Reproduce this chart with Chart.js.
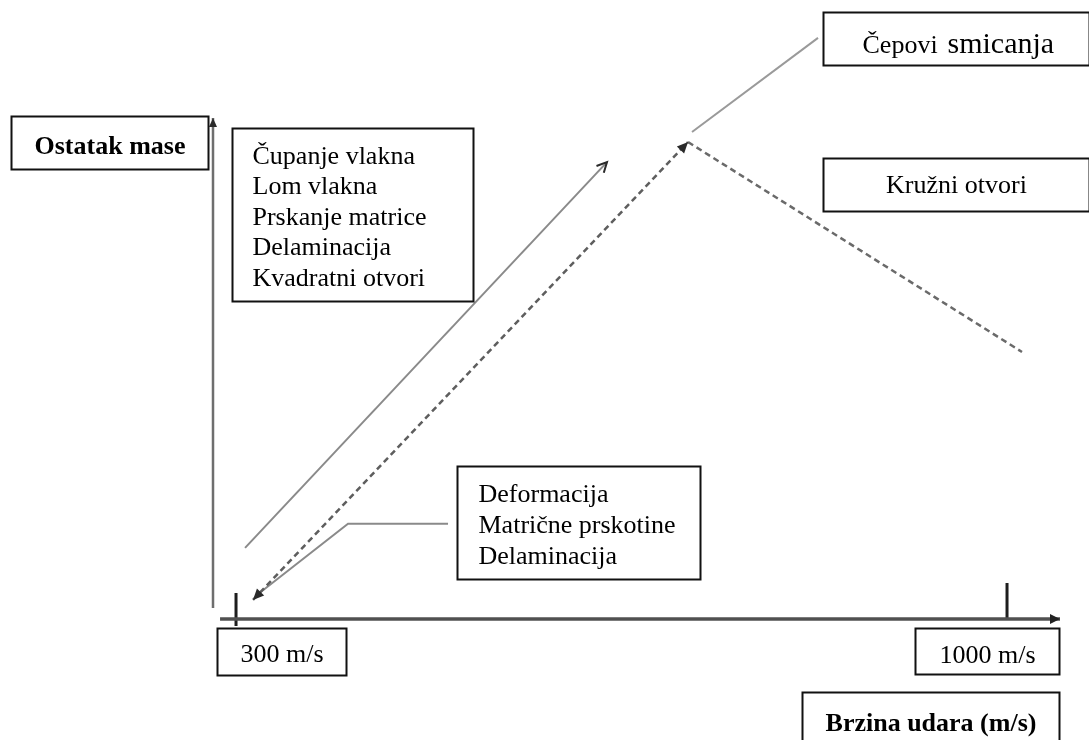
<!DOCTYPE html>
<html>
<head>
<meta charset="utf-8">
<script src="https://cdn.jsdelivr.net/npm/chart.js@4"></script>
<style>
  html, body { margin: 0; padding: 0; background: #fff; }
  canvas { display: block; }
</style>
</head>
<body>
<canvas id="chart" width="1089" height="740"></canvas>
<script>
// axis ranges: impact speed (m/s) and remaining mass (relative units)
const speedRange = [279.1, 1048.1];
const massRange = [0, 100];

// tick marks on the speed axis and their labels
const speedTicks = [300, 1000];
const tickTops = [5.2, 7.2];
const tickLabels = ['300 m/s', '1000 m/s'];

const yTitle = 'Ostatak mase';
const xTitle = 'Brzina udara (m/s)';

// damage mode texts
const fiberModes = ['Čupanje vlakna', 'Lom vlakna', 'Prskanje matrice', 'Delaminacija', 'Kvadratni otvori'];
const lowModes = ['Deformacija', 'Matrične prskotine', 'Delaminacija'];
const roundHoles = 'Kružni otvori';
const plugWords = ['Čepovi', 'smicanja'];

// lines (speed, mass)
const fiberLine = [{ x: 308.2, y: 14.2 }, { x: 636.8, y: 91.2 }];
const riseLine = [{ x: 315.4, y: 3.8 }, { x: 710.4, y: 95.2 }];
const fallLine = [{ x: 710.4, y: 95.2 }, { x: 1013.6, y: 53.3 }];
const plugLine = [{ x: 714.0, y: 97.2 }, { x: 828.4, y: 116.0 }];
const lowLeader = [{ x: 492.5, y: 19.0 }, { x: 401.7, y: 19.0 }, { x: 319.0, y: 4.8 }];
const xAxisLine = [{ x: 285.5, y: 0 }, { x: 1048.1, y: 0 }];
const yAxisLine = [{ x: 279.1, y: 2.2 }, { x: 279.1, y: 100 }];

const FONT = '"Liberation Serif", "Times New Roman", serif';

function lineSet(data, color, width, dash, arrow) {
    return {
        data: data,
        showLine: true,
        borderColor: color,
        borderWidth: width,
        borderDash: dash || [],
        pointRadius: 0,
        pointHoverRadius: 0,
        fill: false,
        clip: false,
        arrow: arrow || {}
    };
}

const datasets = [
    lineSet(yAxisLine, '#6e6e6e', 2.5, null, { end: 'filled', size: [9, 4] }),
    lineSet(xAxisLine, '#505050', 3.5, null, { end: 'filled', size: [10, 5] }),
    lineSet(fiberLine, '#8a8a8a', 2, null, { end: 'open', size: [10, 5] }),
    lineSet(riseLine, '#5e5e5e', 2.5, [6, 4], { start: 'filled', end: 'filled', size: [11, 5] }),
    lineSet(fallLine, '#6a6a6a', 2.5, [6, 4]),
    lineSet(plugLine, '#9a9a9a', 2),
    lineSet(lowLeader, '#8a8a8a', 2)
];
speedTicks.forEach((v, i) => {
    datasets.push(lineSet([{ x: v, y: tickTops[i] }, { x: v, y: i === 0 ? -1.4 : 0 }], '#1e1e1e', 3));
});

// text boxes, anchored at (speed, mass) of their top-left corner
const boxes = [
    { at: [95.7, 100.4], w: 197, h: 53, lines: [yTitle], bold: true, center: true, base: 37 },
    { at: [296.4, 98.0], w: 241, h: 173, lines: fiberModes, pad: 20, base: 35, step: 30.5 },
    { at: [832.9, 121.2], w: 266, h: 53, plug: true, base: 40 },
    { at: [832.9, 92.0], w: 266, h: 53, lines: [roundHoles], center: true, base: 34 },
    { at: [500.6, 30.5], w: 243, h: 113, lines: lowModes, pad: 21, base: 35, step: 31 },
    { at: [282.7, -1.8], w: 129, h: 47, lines: [tickLabels[0]], center: true, base: 33 },
    { at: [916.5, -1.8], w: 144, h: 46, lines: [tickLabels[1]], center: true, base: 34 },
    { at: [813.9, -14.6], w: 257, h: 53, lines: [xTitle], bold: true, center: true, base: 38 }
];

function drawHead(ctx, tip, from, kind, size, color) {
    const ang = Math.atan2(tip.y - from.y, tip.x - from.x);
    const [len, half] = size;
    ctx.save();
    ctx.translate(tip.x, tip.y);
    ctx.rotate(ang);
    ctx.setLineDash([]);
    ctx.strokeStyle = color;
    ctx.fillStyle = color;
    ctx.beginPath();
    if (kind === 'filled') {
        ctx.moveTo(0, 0);
        ctx.lineTo(-len, -half);
        ctx.lineTo(-len, half);
        ctx.closePath();
        ctx.fill();
    } else {
        ctx.lineWidth = 2;
        ctx.moveTo(-len, -half);
        ctx.lineTo(0, 0);
        ctx.lineTo(-len, half);
        ctx.stroke();
    }
    ctx.restore();
}

const arrowPlugin = {
    id: 'arrows',
    afterDatasetsDraw(chart) {
        const ctx = chart.ctx;
        chart.data.datasets.forEach((ds, i) => {
            const pts = chart.getDatasetMeta(i).data;
            const a = ds.arrow;
            if (!a || pts.length < 2) return;
            const color = ds.borderColor === '#505050' ? '#222' : '#2a2a2a';
            if (a.end) drawHead(ctx, pts[pts.length - 1], pts[pts.length - 2], a.end, a.size, color);
            if (a.start) drawHead(ctx, pts[0], pts[1], a.start, a.size, color);
        });
    }
};

const boxPlugin = {
    id: 'boxes',
    afterDraw(chart) {
        const ctx = chart.ctx;
        const xs = chart.scales.x, ys = chart.scales.y;
        boxes.forEach(b => {
            const left = Math.round(xs.getPixelForValue(b.at[0])) + 0.5;
            const top = Math.round(ys.getPixelForValue(b.at[1])) + 0.5;
            ctx.save();
            ctx.fillStyle = '#fff';
            ctx.fillRect(left, top, b.w, b.h);
            ctx.strokeStyle = '#111';
            ctx.lineWidth = 2;
            ctx.strokeRect(left, top, b.w, b.h);
            ctx.fillStyle = '#000';
            ctx.textBaseline = 'alphabetic';
            if (b.plug) {
                ctx.textAlign = 'left';
                ctx.font = '26px ' + FONT;
                ctx.fillText(plugWords[0], left + 39, top + b.base);
                ctx.font = '30px ' + FONT;
                ctx.fillText(plugWords[1], left + 124, top + b.base);
            } else {
                ctx.font = (b.bold ? 'bold ' : '') + '26px ' + FONT;
                b.lines.forEach((t, k) => {
                    const y = top + b.base + k * (b.step || 0);
                    if (b.center) {
                        ctx.textAlign = 'center';
                        ctx.fillText(t, left + b.w / 2, y);
                    } else {
                        ctx.textAlign = 'left';
                        ctx.fillText(t, left + b.pad, y);
                    }
                });
            }
            ctx.restore();
        });
    }
};

const chart = new Chart(document.getElementById('chart'), {
    type: 'scatter',
    data: { datasets: datasets },
    options: {
        responsive: false,
        animation: false,
        devicePixelRatio: 1,
        layout: { padding: { left: 213, right: 29, top: 118, bottom: 121 } },
        plugins: { legend: { display: false }, tooltip: { enabled: false } },
        events: [],
        scales: {
            x: { type: 'linear', min: speedRange[0], max: speedRange[1], display: false },
            y: { type: 'linear', min: massRange[0], max: massRange[1], display: false }
        }
    },
    plugins: [arrowPlugin, boxPlugin]
});
</script>
</body>
</html>
